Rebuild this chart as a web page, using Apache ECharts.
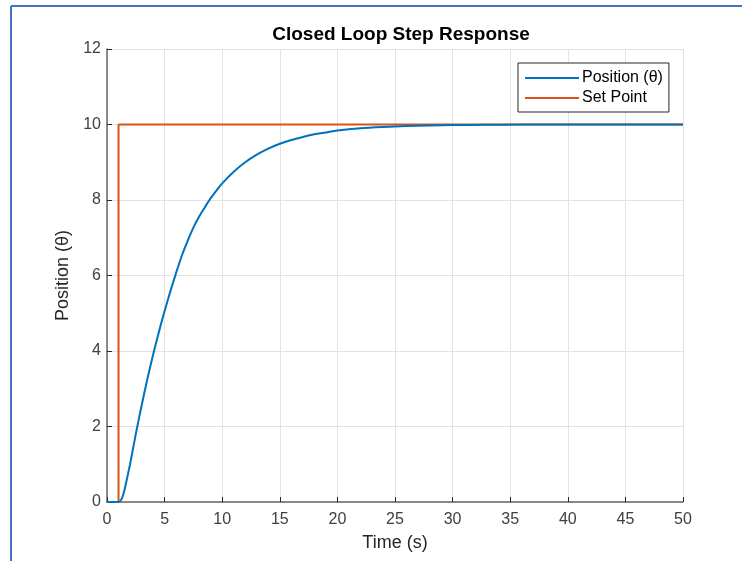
<!DOCTYPE html>
<html>
<head>
<meta charset="utf-8">
<script src="https://cdn.jsdelivr.net/npm/echarts@6/dist/echarts.min.js"></script>
<style>
html,body{margin:0;padding:0;background:#fff;}
#chart{width:742px;height:561px;}
</style>
</head>
<body>
<div id="chart"></div>
<script>
// Time (s) and response values
var positionTime = [0, 1, 1.25, 1.5, 1.75, 2, 2.25, 2.5, 3, 3.5, 4, 4.5, 5, 5.5, 6, 6.5, 7, 7.5, 8, 8.5, 9, 9.5, 10, 11, 12, 13, 14, 15, 16, 17, 18, 19, 20, 22, 24, 26, 28, 30, 33, 36, 40, 50];
var positionValue = [0, 0, 0.07, 0.3, 0.64, 1.0, 1.4, 1.8, 2.55, 3.25, 3.9, 4.5, 5.06, 5.58, 6.07, 6.53, 6.92, 7.27, 7.56, 7.81, 8.05, 8.25, 8.44, 8.75, 9.0, 9.2, 9.36, 9.49, 9.59, 9.67, 9.74, 9.79, 9.84, 9.9, 9.935, 9.96, 9.975, 9.985, 9.993, 9.997, 10, 10];
var setPointTime = [0, 1, 1, 50];
var setPointValue = [0, 0, 10, 10];
var xTicks = [0, 5, 10, 15, 20, 25, 30, 35, 40, 45, 50];
var yTicks = [0, 2, 4, 6, 8, 10, 12];
var seriesNames = ['Position (\u03b8)', 'Set Point'];

function pairs(xs, ys) { return xs.map(function (x, i) { return [x, ys[i]]; }); }

var FONT = '"Liberation Sans", Arial, Helvetica, sans-serif';
var chart = echarts.init(document.getElementById('chart'));
chart.setOption({
  backgroundColor: '#ffffff',
  animation: false,
  title: {
    text: 'Closed Loop Step Response',
    left: 396, top: 20, textAlign: 'center',
    textStyle: { fontFamily: FONT, fontSize: 19, fontWeight: 'bold', color: '#000000' }
  },
  legend: {
    orient: 'vertical',
    left: 518, top: 63,
    backgroundColor: '#ffffff',
    borderColor: '#262626', borderWidth: 1,
    padding: [7, 6, 6, 7],
    itemGap: 4,
    itemWidth: 54, itemHeight: 2,
    icon: 'rect',
    textStyle: { fontFamily: FONT, fontSize: 16, color: '#000000', padding: [0, 0, 0, -2] },
    data: seriesNames
  },
  grid: { left: 107, top: 49, width: 576, height: 453, containLabel: false },
  xAxis: {
    type: 'value', min: 0, max: 50, interval: 5,
    name: 'Time (s)', nameLocation: 'middle', nameGap: 32,
    nameTextStyle: { fontFamily: FONT, fontSize: 18, color: '#262626' },
    axisLine: { show: true, lineStyle: { color: '#666666', width: 1.5 } },
    axisTick: { show: true, inside: true, length: 5, lineStyle: { color: '#262626' } },
    axisLabel: { fontFamily: FONT, fontSize: 16, color: '#404040', margin: 10,
      formatter: function (v) { return xTicks.indexOf(v) >= 0 ? String(v) : ''; } },
    splitLine: { show: true, lineStyle: { color: '#e3e3e3', width: 1 } }
  },
  yAxis: {
    type: 'value', min: 0, max: 12, interval: 2,
    name: 'Position (\u03b8)', nameLocation: 'middle', nameGap: 29, nameRotate: 90,
    nameTextStyle: { fontFamily: FONT, fontSize: 18, color: '#262626' },
    axisLine: { show: true, lineStyle: { color: '#666666', width: 1.5 } },
    axisTick: { show: true, inside: true, length: 5, lineStyle: { color: '#262626' } },
    axisLabel: { fontFamily: FONT, fontSize: 16, color: '#404040', margin: 6,
      formatter: function (v) { return yTicks.indexOf(v) >= 0 ? String(v) : ''; } },
    splitLine: { show: true, lineStyle: { color: '#e3e3e3', width: 1 } }
  },
  graphic: [
    { type: 'line', shape: { x1: 11, y1: 6, x2: 742, y2: 6 }, style: { stroke: '#4472c4', lineWidth: 2 }, z: 100 },
    { type: 'line', shape: { x1: 11, y1: 6, x2: 11, y2: 561 }, style: { stroke: '#4472c4', lineWidth: 2 }, z: 100 }
  ],
  series: [
    {
      name: seriesNames[0], type: 'line', showSymbol: false, symbol: 'none',
      smooth: 0.3,
      lineStyle: { color: '#0072BD', width: 2 }, itemStyle: { color: '#0072BD' },
      data: pairs(positionTime, positionValue), z: 3
    },
    {
      name: seriesNames[1], type: 'line', showSymbol: false, symbol: 'none',
      lineStyle: { color: '#D95319', width: 2 }, itemStyle: { color: '#D95319' },
      data: pairs(setPointTime, setPointValue), z: 2
    }
  ]
});
</script>
</body>
</html>
